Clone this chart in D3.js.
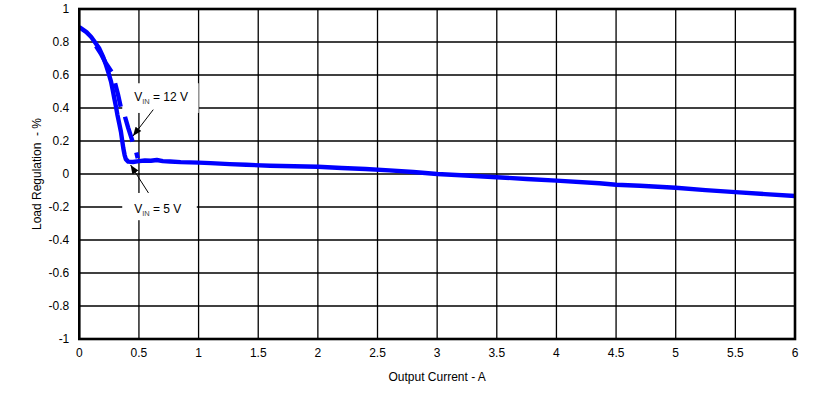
<!DOCTYPE html>
<html><head><meta charset="utf-8">
<script src="https://cdn.jsdelivr.net/npm/d3@7"></script>
<style>body{margin:0;background:#fff}svg{display:block}text{font-family:"Liberation Sans",Arial,sans-serif;fill:#000;white-space:pre}</style>
</head><body>
<script>
const xTicks = [0,0.5,1,1.5,2,2.5,3,3.5,4,4.5,5,5.5,6];
const yTicks = [-1,-0.8,-0.6,-0.4,-0.2,0,0.2,0.4,0.6,0.8,1];
const xTitle = "Output Current - A";
const yTitle = "Load Regulation  - %";
// VIN = 5 V curve: [current A, regulation %]
const vin5 = [[0,0.89],[0.03,0.875],[0.06,0.86],[0.1,0.83],[0.13,0.80],[0.168,0.76],[0.2,0.71],[0.224,0.66],[0.246,0.61],[0.266,0.56],[0.28,0.51],[0.293,0.46],[0.307,0.41],[0.32,0.357],[0.335,0.305],[0.349,0.256],[0.36,0.2],[0.369,0.156],[0.38,0.115],[0.39,0.09],[0.41,0.075],[0.45,0.073],[0.5,0.078],[0.55,0.082],[0.6,0.08],[0.65,0.085],[0.7,0.078],[0.76,0.076],[0.85,0.072],[1.0,0.069],[1.1,0.066],[1.26,0.06],[1.4,0.056],[1.6,0.05],[1.8,0.047],[2.0,0.044],[2.2,0.036],[2.4,0.03],[2.6,0.022],[2.8,0.012],[3.0,0.0],[3.2,-0.008],[3.5,-0.02],[3.75,-0.03],[4.0,-0.04],[4.36,-0.056],[4.5,-0.065],[4.7,-0.071],[5.0,-0.083],[5.25,-0.098],[5.5,-0.11],[5.75,-0.122],[6.0,-0.133]];
// VIN = 12 V curve (broken trace, null = gap)
const vin12 = [[0.14,0.775],[0.18,0.73],[0.22,0.675],[0.27,0.62],null,[0.30,0.55],[0.325,0.48],[0.347,0.408],null,[0.383,0.347],[0.41,0.28],[0.447,0.196],null,[0.478,0.13],[0.485,0.11],[0.49,0.095]];
const labels = [
  {main:"V", sub:"IN", rest:" = 12 V", tx:0.46, ty:0.44, fromX:0.62, fromY:0.39, toX:0.45, toY:0.23, box:[0.36,1.0,0.55,0.37]},
  {main:"V", sub:"IN", rest:" = 5 V", tx:0.46, ty:-0.235, fromX:0.58, fromY:-0.115, toX:0.43, toY:0.055, box:[0.36,0.985,-0.115,-0.28]}
];

const W=827,H=401, L=79.3, R=795, T=9, B=339;
const svg = d3.select("body").append("svg").attr("width",W).attr("height",H);
const x = d3.scaleLinear().domain([0,6]).range([L,R]);
const y = d3.scaleLinear().domain([-1,1]).range([B,T]);

// grid
svg.append("g").selectAll("line").data(xTicks.slice(1,-1)).join("line")
  .attr("x1",d=>x(d)).attr("x2",d=>x(d)).attr("y1",T).attr("y2",B)
  .attr("stroke","#000").attr("stroke-width",1.3);
svg.append("g").selectAll("line").data(yTicks.slice(1,-1)).join("line")
  .attr("y1",d=>y(d)).attr("y2",d=>y(d)).attr("x1",L).attr("x2",R)
  .attr("stroke","#000").attr("stroke-width",1.3);

// label white boxes
labels.forEach(l=>{
  const b=l.box;
  svg.append("rect").attr("x",x(b[0])).attr("y",y(b[2]))
    .attr("width",x(b[1])-x(b[0])).attr("height",y(b[3])-y(b[2]))
    .attr("fill","#fff");
});

// curves
const line = d3.line().defined(d=>d!==null).x(d=>x(d[0])).y(d=>y(d[1]));
svg.append("path").datum(vin5).attr("d",line).attr("fill","none")
  .attr("stroke","#0000ff").attr("stroke-width",4.4).attr("stroke-linejoin","round");
svg.append("path").datum(vin12).attr("d",line).attr("fill","none")
  .attr("stroke","#0000ff").attr("stroke-width",4.4).attr("stroke-linecap","butt");

// frame
svg.append("rect").attr("x",L).attr("y",T).attr("width",R-L).attr("height",B-T)
  .attr("fill","none").attr("stroke","#000").attr("stroke-width",2.6);

// tick labels
svg.append("g").selectAll("text").data(xTicks).join("text")
  .attr("x",d=>x(d)).attr("y",B+18).attr("text-anchor","middle").attr("font-size",12)
  .text(d=>d);
svg.append("g").selectAll("text").data(yTicks).join("text")
  .attr("x",L-10).attr("y",d=>y(d)+4).attr("text-anchor","end").attr("font-size",12)
  .text(d=>d);

// titles
svg.append("text").attr("x",(L+R)/2).attr("y",381).attr("text-anchor","middle").attr("font-size",12).text(xTitle);
svg.append("text").attr("transform",`translate(41,${(T+B)/2}) rotate(-90)`).attr("text-anchor","middle").attr("font-size",12).text(yTitle);

// annotations
const defs = svg.append("defs");
defs.append("marker").attr("id","arr").attr("viewBox","0 0 10 10").attr("refX",10).attr("refY",5)
  .attr("markerWidth",9).attr("markerHeight",9).attr("markerUnits","userSpaceOnUse").attr("orient","auto")
  .append("path").attr("d","M0,1 L10,5 L0,9 Z").attr("fill","#000");
labels.forEach(l=>{
  svg.append("line").attr("x1",x(l.fromX)).attr("y1",y(l.fromY)).attr("x2",x(l.toX)).attr("y2",y(l.toY))
    .attr("stroke","#000").attr("stroke-width",1).attr("marker-end","url(#arr)");
  const t = svg.append("text").attr("x",x(l.tx)).attr("y",y(l.ty)).attr("font-size",12);
  t.append("tspan").text(l.main);
  t.append("tspan").attr("font-size",7.5).attr("dy",3).attr("fill","#444").text(l.sub);
  t.append("tspan").attr("dy",-3).text(l.rest);
});
</script>
</body></html>
